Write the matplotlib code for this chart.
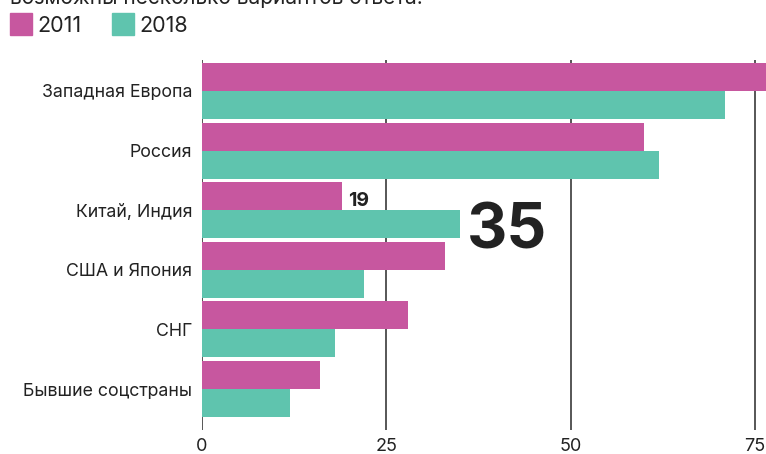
import matplotlib
matplotlib.use("Agg")
import matplotlib.pyplot as plt
from matplotlib.patches import Rectangle
import numpy as np

plt.rcParams['font.family'] = ['Inter', 'DejaVu Sans']

categories = ["Западная Европа", "Россия", "Китай, Индия", "США и Япония", "СНГ", "Бывшие соцстраны"]
values_2011 = [78, 60, 19, 33, 28, 16]
values_2018 = [71, 62, 35, 22, 18, 12]
series_labels = ["2011", "2018"]
xticks = [0, 25, 50, 75]
subtitle = "возможны несколько вариантов ответа."

c2011 = "#C7579F"
c2018 = "#5FC4AE"
text_c = "#222222"

W, H, dpi = 766, 454, 100
fig = plt.figure(figsize=(W / dpi, H / dpi), dpi=dpi)
ax = fig.add_axes([202 / W, 1 - 430 / H, (W - 202) / W, (430 - 60) / H])

y = np.arange(len(categories))
h = 0.47
ax.barh(y - h / 2, values_2011, height=h, color=c2011, zorder=3)
ax.barh(y + h / 2, values_2018, height=h, color=c2018, zorder=3)

ax.set_xlim(0, 76.5)
ax.set_ylim(5.6867, -0.52)
ax.set_xticks(xticks)
ax.set_xticklabels([str(t) for t in xticks], fontsize=13, color=text_c)
ax.set_yticks(y)
ax.set_yticklabels(categories, fontsize=12.8, color=text_c)
ax.tick_params(axis='y', length=0, pad=7)
ax.tick_params(axis='x', length=0, pad=6)
for t in xticks:
    ax.axvline(t, color="#3a3a3a", lw=1.2, zorder=1)
for s in ax.spines.values():
    s.set_visible(False)

# annotations
ax.text(values_2011[2] + 0.85, 1.93, str(values_2011[2]), fontsize=14, fontweight='bold',
        color=text_c, va='baseline', ha='left', zorder=4)
ax.text(values_2018[2] + 0.9, 2.647, str(values_2018[2]), fontsize=45, fontweight='bold',
        color=text_c, va='baseline', ha='left', zorder=4)

# top subtitle (cut off) and legend
fig.text(10 / W, 1 - 4 / H, subtitle, fontsize=15, color=text_c, va='baseline', ha='left')
for i, (lab, col) in enumerate(zip(series_labels, [c2011, c2018])):
    x0 = 10 + i * 102
    fig.patches.append(Rectangle((x0 / W, 1 - 35 / H), 22 / W, 22 / H, transform=fig.transFigure,
                                 color=col, figure=fig))
    fig.text((x0 + 27) / W, 1 - 32.5 / H, lab, fontsize=15.5, color=text_c, va='baseline', ha='left')

fig.savefig("out.png", dpi=dpi)
